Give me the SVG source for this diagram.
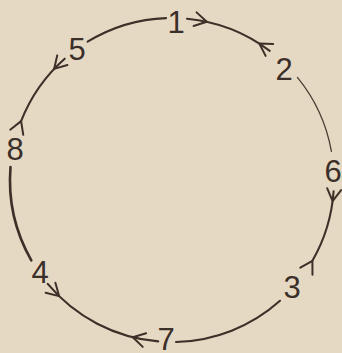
<svg xmlns="http://www.w3.org/2000/svg" xmlns:xlink="http://www.w3.org/1999/xlink" width="342" height="353" viewBox="0 0 342 353">
<style>
.arc{fill:none;stroke:#3d3029;stroke-width:2.1;stroke-linecap:round}
.thin{stroke-width:1.3;stroke:#4a3d35}
.thick{stroke-width:2.6}
.ah{fill:none;stroke:#3d3029;stroke-width:2;stroke-linecap:round;stroke-linejoin:round}
.lbl{font-family:"Liberation Sans",Arial,sans-serif;font-size:31px;fill:#3b2f29;text-anchor:middle}
</style>
<defs>
<path id="ah" class="ah" d="M-12,-7 L0,0 L-12,7"/>
</defs>
<rect width="342" height="353" fill="#e6d9c3"/>
<g id="connectors">
<path class="arc" d="M87.6,41.7 A162,162 0 0 1 166.1,18.1"/>
<path class="arc" d="M187,18.7 A162,162 0 0 1 269.7,50.8"/>
<path class="arc thin" d="M297.4,77.4 A162,162 0 0 1 331.4,151.3"/>
<path class="arc" d="M333.6,191.3 A162,162 0 0 1 312.4,260.8"/>
<path class="arc" d="M280,300.8 A162,162 0 0 1 176,342"/>
<path class="arc" d="M158.2,341.4 A162,162 0 0 1 47.7,283.9"/>
<path class="arc thick" d="M31.3,260.3 A162,162 0 0 1 10.5,167"/>
<path class="arc" d="M21.1,121.1 A162,162 0 0 1 64.7,58.7"/>
<use href="#ah" transform="translate(206.8,21.8) rotate(12.4)"/>
<use href="#ah" transform="translate(259.3,43.5) rotate(-147.4)"/>
<use href="#ah" transform="translate(332.6,201.1) rotate(97.5)"/>
<use href="#ah" transform="translate(312.4,260.8) rotate(-60.1)"/>
<use href="#ah" transform="translate(132.8,337.2) rotate(194)"/>
<use href="#ah" transform="translate(59.1,296.1) rotate(44.2)"/>
<use href="#ah" transform="translate(21.1,121.1) rotate(291.3)"/>
<use href="#ah" transform="translate(54.1,68.9) rotate(133.3)"/>
</g>
<g id="n1"><text class="lbl" x="176" y="33">1</text></g>
<g id="n2"><text class="lbl" x="284" y="80">2</text></g>
<g id="n5"><text class="lbl" x="77" y="60">5</text></g>
<g id="n8"><text class="lbl" x="15" y="160">8</text></g>
<g id="n6"><text class="lbl" x="333" y="182">6</text></g>
<g id="n3"><text class="lbl" x="292" y="298">3</text></g>
<g id="n4"><text class="lbl" x="40" y="283">4</text></g>
<g id="n7"><text class="lbl" x="166" y="350">7</text></g>
</svg>
